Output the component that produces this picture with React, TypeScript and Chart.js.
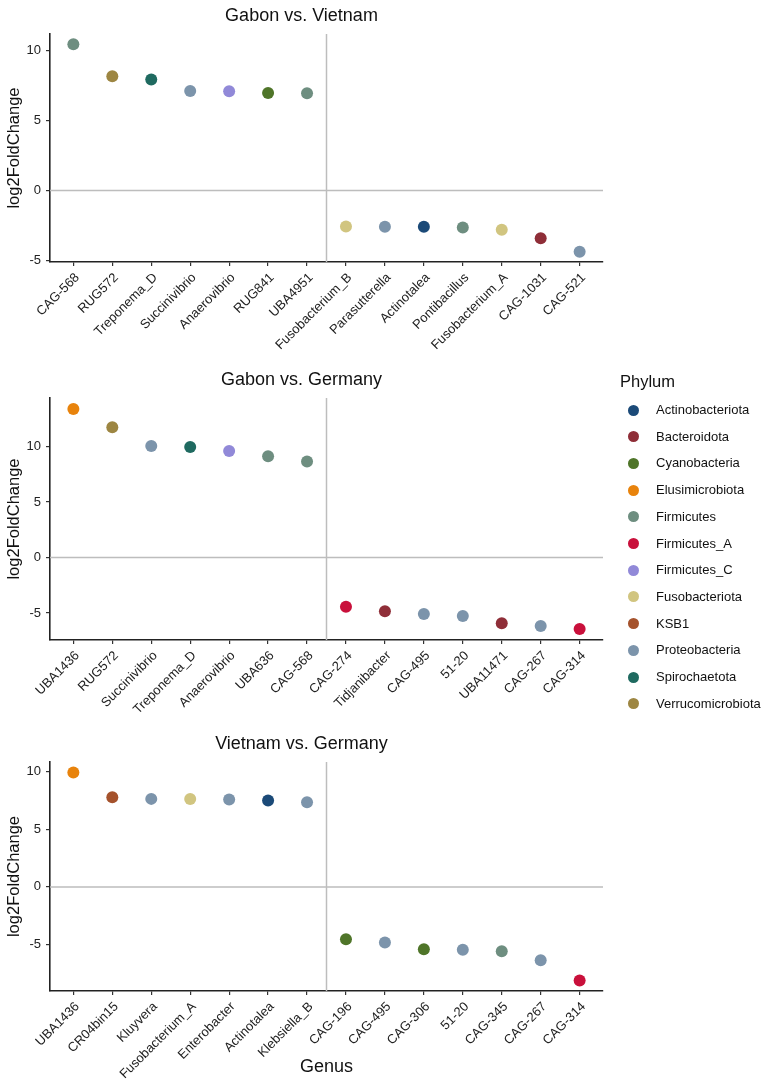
import React, { useEffect, useRef } from "react";
import { Chart, registerables } from "chart.js";

Chart.register(...registerables);

const FONT = "'Liberation Sans', Arial, Helvetica, sans-serif";

// Legend / phylum palette
const phylumNames = [
  "Actinobacteriota",
  "Bacteroidota",
  "Cyanobacteria",
  "Elusimicrobiota",
  "Firmicutes",
  "Firmicutes_A",
  "Firmicutes_C",
  "Fusobacteriota",
  "KSB1",
  "Proteobacteria",
  "Spirochaetota",
  "Verrucomicrobiota",
];
const phylumColors = [
  "#1B4A78",
  "#8F2E38",
  "#4F7529",
  "#E8830C",
  "#6E8E80",
  "#C9103B",
  "#9189D8",
  "#D1C580",
  "#A5522C",
  "#7C94AB",
  "#1F6A60",
  "#9D8642",
];

// Panel 1: Gabon vs. Vietnam
const title1 = "Gabon vs. Vietnam";
const genus1 = [
  "CAG-568", "RUG572", "Treponema_D", "Succinivibrio", "Anaerovibrio", "RUG841", "UBA4951",
  "Fusobacterium_B", "Parasutterella", "Actinotalea", "Pontibacillus", "Fusobacterium_A", "CAG-1031", "CAG-521",
];
const lfc1 = [10.43, 8.16, 7.92, 7.11, 7.09, 6.96, 6.94, -2.56, -2.58, -2.58, -2.63, -2.80, -3.41, -4.36];
const phylum1 = [
  "Firmicutes", "Verrucomicrobiota", "Spirochaetota", "Proteobacteria", "Firmicutes_C", "Cyanobacteria", "Firmicutes",
  "Fusobacteriota", "Proteobacteria", "Actinobacteriota", "Firmicutes", "Fusobacteriota", "Bacteroidota", "Proteobacteria",
];

// Panel 2: Gabon vs. Germany
const title2 = "Gabon vs. Germany";
const genus2 = [
  "UBA1436", "RUG572", "Succinivibrio", "Treponema_D", "Anaerovibrio", "UBA636", "CAG-568",
  "CAG-274", "Tidjanibacter", "CAG-495", "51-20", "UBA11471", "CAG-267", "CAG-314",
];
const lfc2 = [13.39, 11.74, 10.06, 9.97, 9.61, 9.13, 8.65, -4.43, -4.85, -5.09, -5.27, -5.93, -6.17, -6.44];
const phylum2 = [
  "Elusimicrobiota", "Verrucomicrobiota", "Proteobacteria", "Spirochaetota", "Firmicutes_C", "Firmicutes", "Firmicutes",
  "Firmicutes_A", "Bacteroidota", "Proteobacteria", "Proteobacteria", "Bacteroidota", "Proteobacteria", "Firmicutes_A",
];

// Panel 3: Vietnam vs. Germany
const title3 = "Vietnam vs. Germany";
const genus3 = [
  "UBA1436", "CR04bin15", "Kluyvera", "Fusobacterium_A", "Enterobacter", "Actinotalea", "Klebsiella_B",
  "CAG-196", "CAG-495", "CAG-306", "51-20", "CAG-345", "CAG-267", "CAG-314",
];
const lfc3 = [9.95, 7.80, 7.65, 7.63, 7.60, 7.51, 7.36, -4.55, -4.84, -5.42, -5.45, -5.59, -6.37, -8.14];
const phylum3 = [
  "Elusimicrobiota", "KSB1", "Proteobacteria", "Fusobacteriota", "Proteobacteria", "Actinobacteriota", "Proteobacteria",
  "Cyanobacteria", "Proteobacteria", "Cyanobacteria", "Proteobacteria", "Firmicutes", "Proteobacteria", "Firmicutes_A",
];

const colorOf = (p: string) => phylumColors[phylumNames.indexOf(p)];

const refLines = {
  id: "refLines",
  beforeDatasetsDraw(chart: any, _args: any, opts: any) {
    const { ctx, chartArea, scales } = chart;
    ctx.save();
    ctx.strokeStyle = "#BDBDBD";
    ctx.lineWidth = 1.5;
    const y0 = scales.y.getPixelForValue(0);
    ctx.beginPath();
    ctx.moveTo(chartArea.left, y0);
    ctx.lineTo(chartArea.right, y0);
    ctx.stroke();
    const xv = scales.x.getPixelForValue(opts.split);
    ctx.beginPath();
    ctx.moveTo(xv, chartArea.top);
    ctx.lineTo(xv, chartArea.bottom);
    ctx.stroke();
    ctx.restore();
  },
};

type PanelProps = {
  title: string;
  labels: string[];
  values: number[];
  phyla: string[];
  top: number;
  height: number;
  xHeight: number;
  xTitle?: string;
};

const CANVAS_W = 652;

function Panel({ title, labels, values, phyla, top, height, xHeight, xTitle }: PanelProps) {
  const ref = useRef<HTMLCanvasElement>(null);
  useEffect(() => {
    if (!ref.current) return;
    const vmax = Math.max(...values);
    const vmin = Math.min(...values);
    const pad = (vmax - vmin) * 0.05;
    const n = labels.length;
    const chart = new Chart(ref.current, {
      type: "scatter",
      data: {
        datasets: [
          {
            data: values.map((v, i) => ({ x: i, y: v })),
            pointBackgroundColor: phyla.map(colorOf),
            pointBorderColor: phyla.map(colorOf),
            pointBorderWidth: 0,
            pointRadius: 6,
            pointHoverRadius: 6,
          },
        ],
      },
      options: {
        animation: false,
        responsive: false,
        maintainAspectRatio: false,
        events: [],
        layout: { padding: { left: 0, right: CANVAS_W - 603, top: 0, bottom: 0 } },
        plugins: {
          legend: { display: false },
          tooltip: { enabled: false },
          title: {
            display: true,
            text: title,
            color: "#111",
            font: { family: FONT, size: 18, weight: "normal" },
            padding: { top: 5, bottom: 7.4 },
          },
          refLines: { split: 6.5 },
        } as any,
        scales: {
          x: {
            type: "linear",
            min: -0.6,
            max: n - 1 + 0.6,
            grid: { drawOnChartArea: false, drawTicks: true, tickLength: 4, color: "#333", lineWidth: 1.2 },
            border: { display: true, color: "#222", width: 1.6 },
            afterBuildTicks: (s: any) => {
              s.ticks = labels.map((_, i) => ({ value: i }));
            },
            afterFit: (s: any) => {
              s.height = xHeight;
            },
            ticks: {
              autoSkip: false,
              maxRotation: 45,
              minRotation: 45,
              padding: 4,
              labelOffset: 4,
              color: "#222",
              font: { family: FONT, size: 13 },
              callback: (v: any) => labels[Math.round(v)],
            },
            title: xTitle
              ? {
                  display: true,
                  text: xTitle,
                  color: "#111",
                  font: { family: FONT, size: 18 },
                  padding: { top: 0, bottom: 10 },
                }
              : { display: false },
          },
          y: {
            type: "linear",
            min: vmin - pad,
            max: vmax + pad,
            grid: { drawOnChartArea: false, drawTicks: true, tickLength: 4, color: "#333", lineWidth: 1.2 },
            border: { display: true, color: "#222", width: 1.6 },
            afterBuildTicks: (s: any) => {
              const t: any[] = [];
              for (let v = Math.ceil(s.min / 5) * 5; v <= s.max; v += 5) t.push({ value: v });
              s.ticks = t;
            },
            afterFit: (s: any) => {
              s.width = 50;
            },
            ticks: {
              padding: 5,
              color: "#222",
              font: { family: FONT, size: 13 },
              callback: (v: any) => String(v),
            },
            title: {
              display: true,
              text: "log2FoldChange",
              color: "#111",
              font: { family: FONT, size: 16.5 },
              padding: { top: 5, bottom: 0 },
            },
          },
        },
      },
      plugins: [refLines],
    } as any);
    return () => chart.destroy();
  }, []);
  return (
    <canvas
      ref={ref}
      width={CANVAS_W}
      height={height}
      style={{ position: "absolute", left: 0, top, width: CANVAS_W, height }}
    />
  );
}

function Legend() {
  return (
    <div style={{ position: "absolute", left: 0, top: 0, fontFamily: FONT, color: "#111" }}>
      <div style={{ position: "absolute", left: 620, top: 371, fontSize: 16.5, lineHeight: "20px", whiteSpace: "nowrap" }}>
        Phylum
      </div>
      {phylumNames.map((p, i) => {
        const cy = 410 + i * 26.7;
        return (
          <React.Fragment key={p}>
            <div
              style={{
                position: "absolute",
                left: 627.5,
                top: cy - 5.5,
                width: 11,
                height: 11,
                borderRadius: 5.5,
                background: phylumColors[i],
              }}
            />
            <div
              style={{
                position: "absolute",
                left: 656,
                top: cy - 8,
                fontSize: 13,
                lineHeight: "16px",
                whiteSpace: "nowrap",
              }}
            >
              {p}
            </div>
          </React.Fragment>
        );
      })}
    </div>
  );
}

export default function App() {
  return (
    <div style={{ position: "absolute", left: 0, top: 0, width: 765, height: 1088, background: "#fff", overflow: "hidden" }}>
      <Panel title={title1} labels={genus1} values={lfc1} phyla={phylum1} top={0} height={362} xHeight={100} />
      <Panel title={title2} labels={genus2} values={lfc2} phyla={phylum2} top={364} height={362} xHeight={86} />
      <Panel
        title={title3}
        labels={genus3}
        values={lfc3}
        phyla={phylum3}
        top={728}
        height={360}
        xHeight={97}
        xTitle="Genus"
      />
      <Legend />
    </div>
  );
}
